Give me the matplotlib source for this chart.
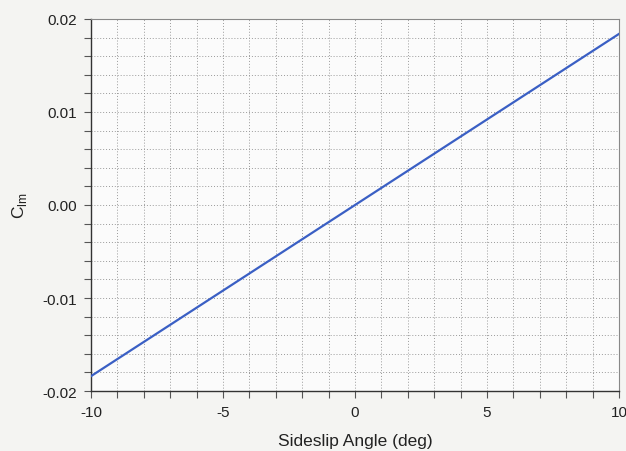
import matplotlib
matplotlib.use("Agg")
import matplotlib.pyplot as plt
from matplotlib.ticker import MultipleLocator

plt.rcParams['font.family'] = ['Liberation Sans', 'DejaVu Sans']

# Rolling-moment coefficient vs sideslip angle
beta_deg = [-10, -5, 0, 5, 10]
clm = [-0.0184, -0.0092, 0.0, 0.0092, 0.0184]

xticks = [-10, -5, 0, 5, 10]
yticks = [-0.02, -0.01, 0.00, 0.01, 0.02]
ytick_labels = ["-0.02", "-0.01", "0.00", "0.01", "0.02"]

fig = plt.figure(figsize=(6.26, 4.52), dpi=100, facecolor='#f4f4f2')
ax = fig.add_axes([0.1454, 0.1327, 0.8435, 0.8231])
ax.set_facecolor('#fbfbfb')

ax.plot(beta_deg, clm, color='#3a5fc4', linewidth=1.6, zorder=3)

ax.set_xlim(-10, 10)
ax.set_ylim(-0.02, 0.02)
ax.set_xticks(xticks)
ax.set_xticklabels([str(t) for t in xticks])
ax.set_yticks(yticks)
ax.set_yticklabels(ytick_labels)
ax.xaxis.set_minor_locator(MultipleLocator(1))
ax.yaxis.set_minor_locator(MultipleLocator(0.002))

ax.grid(which='both', linestyle=(0, (1, 2)), color='#9a9a9a', linewidth=0.7)
ax.tick_params(which='both', direction='out', length=5, width=0.8, colors='#555555',
               labelcolor='#222222', labelsize=11, top=False, right=False)
ax.tick_params(which='major', pad=5)

for side in ['left', 'bottom']:
    ax.spines[side].set_color('#333333')
    ax.spines[side].set_linewidth(1.0)
for side in ['right', 'top']:
    ax.spines[side].set_color('#888888')
    ax.spines[side].set_linewidth(0.8)

ax.set_xlabel('Sideslip Angle (deg)', fontsize=12.5, color='#222222', labelpad=10)
ax.set_ylabel(r'C$_{\mathregular{lm}}$', fontsize=12.5, color='#222222')
ax.yaxis.set_label_coords(-0.118, 0.5)

fig.savefig('out.png', dpi=100, facecolor=fig.get_facecolor())
